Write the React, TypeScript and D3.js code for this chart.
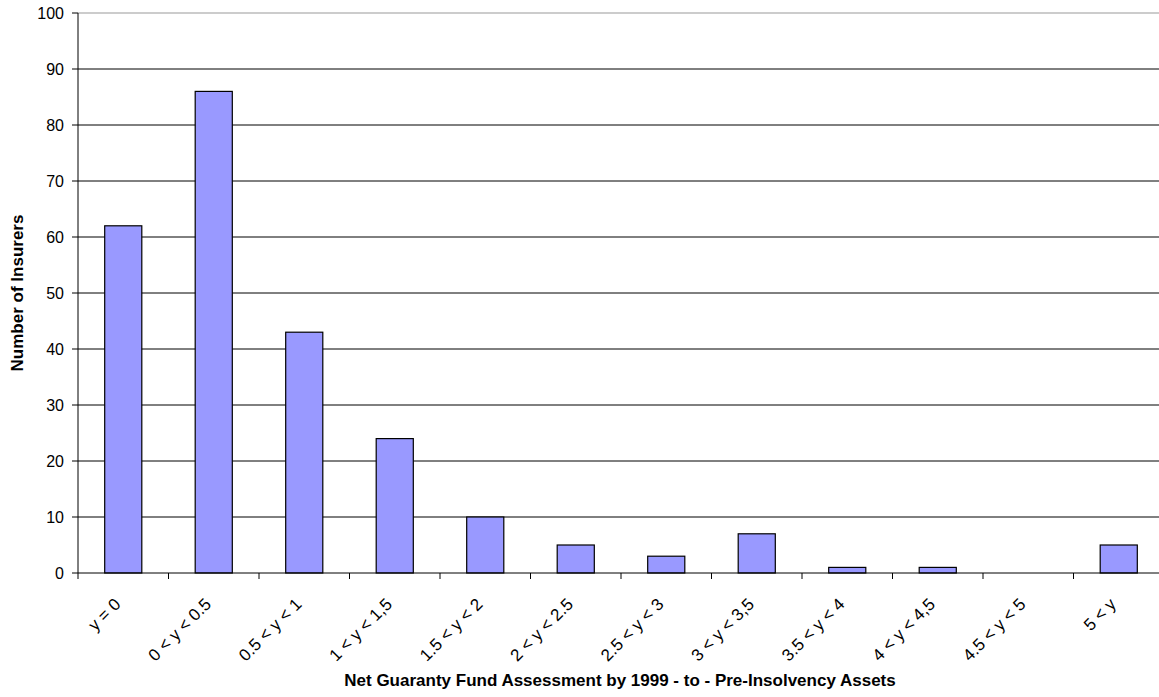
import React from "react";
import * as d3 from "d3";

const categories = ["y = 0", "0 < y < 0.5", "0.5 < y < 1", "1 < y < 1,5", "1.5 < y < 2", "2 < y < 2.5", "2.5 < y < 3", "3 < y < 3,5", "3.5 < y < 4", "4 < y < 4,5", "4.5 < y < 5", "5 < y"];
const counts = [62, 86, 43, 24, 10, 5, 3, 7, 1, 1, 0, 5];
const yTicks = [0, 10, 20, 30, 40, 50, 60, 70, 80, 90, 100];

const W = 1159, H = 697;
const left = 78, top = 13, bottom = 573;
const right = left + 12 * 90.5;

export default function App() {
  const x = d3.scaleBand<string>().domain(categories).range([left, right]).paddingInner(0.59).paddingOuter(0.295);
  const xb = d3.scaleBand<string>().domain(categories).range([left, right]);
  const y = d3.scaleLinear().domain([0, 100]).range([bottom, top]);
  const font = "Arial, 'Liberation Sans', sans-serif";
  return (
    <svg width={W} height={H} style={{ position: "absolute", left: 0, top: 0, display: "block" }} fontFamily={font}>
      <rect x={0} y={0} width={W} height={H} fill="#fff" />
      {yTicks.map((t) => (
        <g key={t}>
          {t > 0 && <line x1={left} x2={right} y1={y(t)} y2={y(t)} stroke={t === 100 ? "#999" : "#000"} strokeWidth={1} />}
          <line x1={left - 6} x2={left} y1={y(t)} y2={y(t)} stroke="#000" />
          <text x={left - 14} y={y(t)} dy="0.36em" textAnchor="end" fontSize={16}>{t}</text>
        </g>
      ))}
      {categories.map((c, i) => (
        <rect key={c} x={x(c)} y={y(counts[i])} width={x.bandwidth()} height={bottom - y(counts[i])} fill="#9999FF" stroke="#000" strokeWidth={1.2} />
      ))}
      <line x1={left} x2={left} y1={top} y2={bottom} stroke="#000" />
      <line x1={left} x2={right} y1={bottom} y2={bottom} stroke="#000" />
      {categories.map((c) => (
        <line key={"t" + c} x1={xb(c)!} x2={xb(c)!} y1={bottom} y2={bottom + 6} stroke="#000" />
      ))}
      {categories.map((c) => {
        const cx = xb(c)! + xb.bandwidth() / 2;
        return (
          <text key={"l" + c} transform={`translate(${cx - 6},${bottom + 28}) rotate(-45)`} textAnchor="end" dy="0.36em" fontSize={17}>{c}</text>
        );
      })}
      <text x={620} y={686} textAnchor="middle" fontWeight="bold" fontSize={17}>Net Guaranty Fund Assessment by 1999 - to - Pre-Insolvency Assets</text>
      <text transform={`translate(23,293) rotate(-90)`} textAnchor="middle" fontWeight="bold" fontSize={17}>Number of Insurers</text>
    </svg>
  );
}
